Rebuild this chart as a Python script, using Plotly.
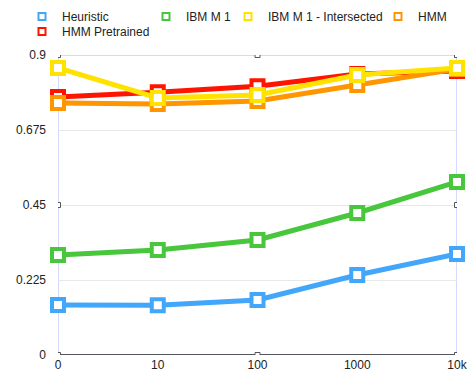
import plotly.graph_objects as go

# Training-set sizes on the horizontal axis
sizes = ["0", "10", "100", "1000", "10k"]

# Scores per method
heuristic = [0.150, 0.149, 0.165, 0.240, 0.303]
ibm_m1 = [0.300, 0.315, 0.345, 0.426, 0.519]
ibm_m1_intersected = [0.861, 0.771, 0.780, 0.840, 0.861]
hmm = [0.756, 0.753, 0.762, 0.810, 0.858]
hmm_pretrained = [0.774, 0.788, 0.806, 0.843, 0.852]

y_ticks = [0, 0.225, 0.45, 0.675, 0.9]

x_idx = list(range(len(sizes)))

series = [
    ("HMM Pretrained", hmm_pretrained, "rgb(255,20,0)", "legend5"),
    ("HMM", hmm, "rgb(255,150,0)", "legend4"),
    ("Heuristic", heuristic, "rgb(66,166,250)", "legend"),
    ("IBM M 1", ibm_m1, "rgb(72,198,60)", "legend2"),
    ("IBM M 1 - Intersected", ibm_m1_intersected, "rgb(255,226,0)", "legend3"),
]

FONT = "Liberation Sans, Arial, Helvetica, sans-serif"
TEXT = "#222222"

fig = go.Figure()

for name, vals, color, leg in series:
    fig.add_trace(go.Scatter(
        x=x_idx, y=vals, mode="lines+markers", name=name,
        line=dict(color=color, width=5),
        marker=dict(symbol="square", size=12, color="white",
                    line=dict(color=color, width=4)),
        cliponaxis=False, showlegend=False,
    ))

# Legend entries: small hollow squares, one legend box per entry
for name, vals, color, leg in series:
    fig.add_trace(go.Scatter(
        x=[None], y=[None], mode="markers", name=name,
        marker=dict(symbol="square", size=7, color="white",
                    line=dict(color=color, width=2)),
        legend=leg, showlegend=True,
    ))

W, H = 468, 372
legend_pos = {
    "legend": (22, 2),
    "legend2": (146, 2),
    "legend3": (228, 2),
    "legend4": (378, 2),
    "legend5": (22, 17),
}
layout_legends = {}
for key, (px, py) in legend_pos.items():
    layout_legends[key] = dict(
        x=px / W, y=1 - py / H, xref="container", yref="container",
        xanchor="left", yanchor="top", orientation="h",
        bgcolor="rgba(0,0,0,0)", borderwidth=0,
        font=dict(family=FONT, size=12, color=TEXT),
    )

# Selection frame around the plot area
shapes = [
    dict(type="rect", xref="x", yref="y", x0=0, x1=4, y0=0, y1=0.9,
         line=dict(color="rgb(168,180,250)", width=1), layer="below"),
    dict(type="line", xref="x", yref="y", x0=0, x1=4, y0=0, y1=0,
         line=dict(color="#2a2a2a", width=1.5), layer="below"),
]
for hx, hy in [(0, 0.9), (2, 0.9), (4, 0.9), (0, 0.45), (4, 0.45),
               (0, 0), (2, 0), (4, 0)]:
    shapes.append(dict(
        type="rect", xref="x", yref="y", xsizemode="pixel", ysizemode="pixel",
        xanchor=hx, yanchor=hy, x0=-2.5, x1=2.5, y0=-2.5, y1=2.5,
        fillcolor="white", line=dict(color="#555555", width=1), layer="above",
    ))

fig.update_layout(
    width=W, height=H,
    margin=dict(l=58, r=11, t=55, b=17, autoexpand=False),
    paper_bgcolor="white", plot_bgcolor="white",
    font=dict(family=FONT, size=12, color=TEXT),
    shapes=shapes,
    **layout_legends,
)

fig.update_xaxes(
    range=[0, 4], tickvals=x_idx, ticktext=sizes,
    showgrid=False, zeroline=False, showline=False, ticks="",
    ticklabelstandoff=1, automargin=False,
    tickfont=dict(family=FONT, size=12, color=TEXT),
)
fig.update_yaxes(
    range=[0, 0.9], tickvals=y_ticks, ticktext=[str(v) for v in y_ticks],
    showgrid=True, gridcolor="#e8e8e8", gridwidth=1,
    zeroline=False, showline=False, ticks="",
    ticklabelstandoff=11, automargin=False,
    tickfont=dict(family=FONT, size=12, color=TEXT),
)

fig.write_html("out.html")
